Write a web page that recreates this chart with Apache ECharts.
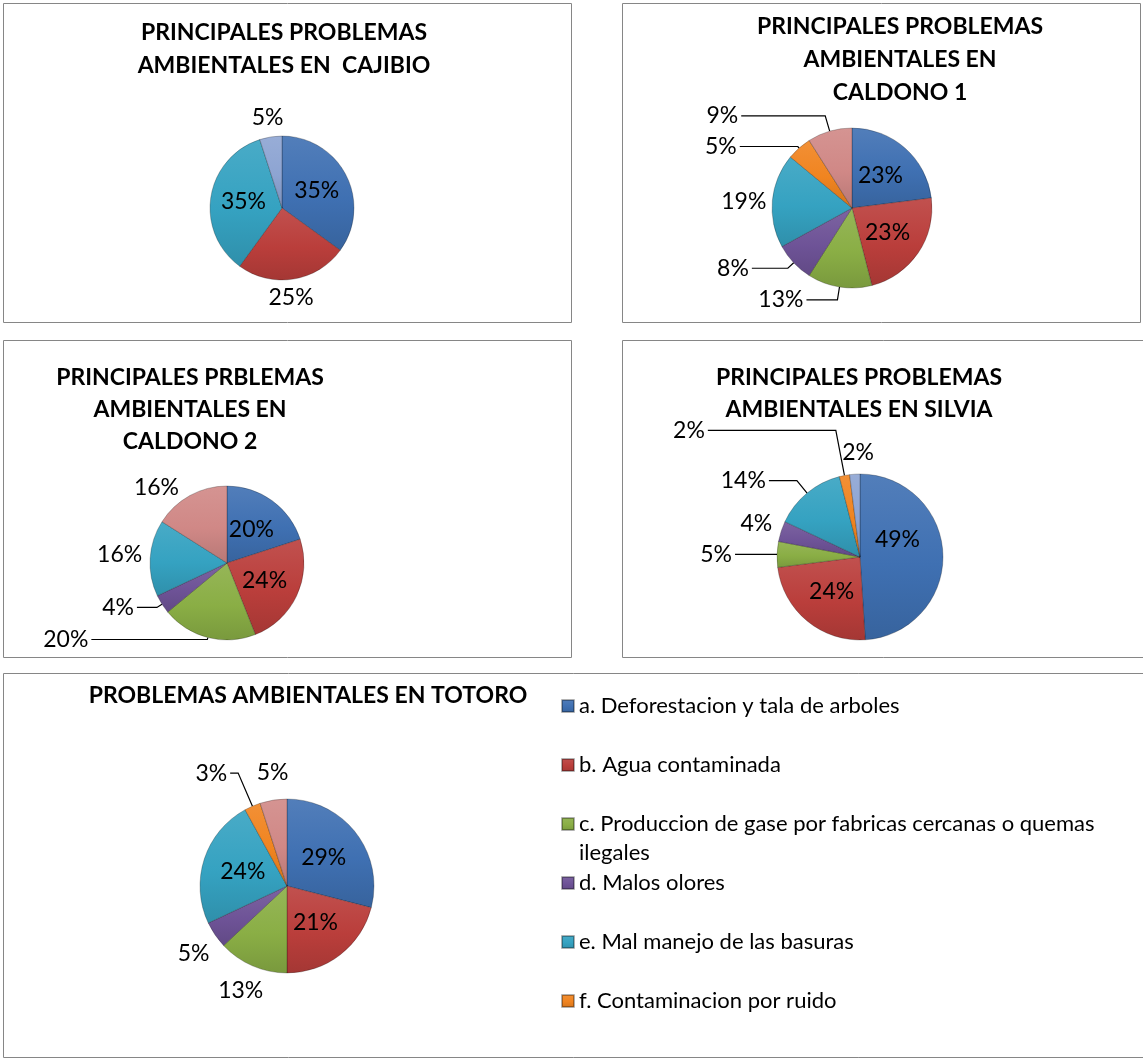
<!DOCTYPE html>
<html>
<head>
<meta charset="utf-8">
<script src="https://cdn.jsdelivr.net/npm/echarts@6/dist/echarts.min.js"></script>
<style>
  html, body { margin: 0; padding: 0; background: #fff; }
  #chart { width: 1143px; height: 1059px; }
</style>
</head>
<body>
<div id="chart"></div>
<script>
// categories (the legend only lists a - f)
const categories = [
  'a. Deforestacion y tala de arboles',
  'b. Agua contaminada',
  'c. Produccion de gase por fabricas cercanas o quemas ilegales',
  'd. Malos olores',
  'e. Mal manejo de las basuras',
  'f. Contaminacion por ruido',
  'g.',
  'h.'
];
const legendItems = categories.slice(0, 6);

// percentages per municipality, in category order a..h
const cajibio  = [35, 25, 0, 0, 35, 0, 0, 5];
const caldono1 = [23, 23, 13, 8, 19, 5, 9, 0];
const caldono2 = [20, 24, 20, 4, 16, 0, 16, 0];
const silvia   = [49, 24, 5, 4, 14, 2, 0, 2];
const totoro   = [29, 21, 13, 5, 24, 3, 5, 0];

const titles = [
  'PRINCIPALES PROBLEMAS\nAMBIENTALES EN  CAJIBIO',
  'PRINCIPALES PROBLEMAS\nAMBIENTALES EN\nCALDONO 1',
  'PRINCIPALES PRBLEMAS\nAMBIENTALES EN\nCALDONO 2',
  'PRINCIPALES PROBLEMAS\nAMBIENTALES EN SILVIA',
  'PROBLEMAS AMBIENTALES EN TOTORO'
];

// colours (Excel office palette, bevel-darkened, + two extra tints)
const palette = ['#3F70B2', '#BA3E3B', '#8AAE45', '#6E5397', '#35A2C1', '#F08420', '#D08886', '#8DA4D2'];

// label placement per slice: in = inside, out = outside without line, line = outside with leader line
const cajibioLabels = {
  0: { mode: 'in' }, 1: { mode: 'out', len: 8, dx: -29, dy: 11 },
  4: { mode: 'in' }, 7: { mode: 'out', len: 8, dx: 17, dy: -11 }
};
const caldono1Labels = {
  0: { mode: 'in' }, 1: { mode: 'in' },
  2: { mode: 'line', len: 13, len2: 31 }, 3: { mode: 'line', len: 8, len2: 36 },
  4: { mode: 'out', len: 6, dx: 3, dy: 2 },
  5: { mode: 'line', len: 2, len2: 58 }, 6: { mode: 'line', len: 16, len2: 84 }
};
const caldono2Labels = {
  0: { mode: 'in' }, 1: { mode: 'in' },
  2: { mode: 'line', len: 2, len2: 116 }, 3: { mode: 'line', len: 6, len2: 20 },
  4: { mode: 'out', len: 2, dx: -3, dy: -3 }, 6: { mode: 'out', len: 6, dx: -5, dy: -3 }
};
const silviaLabels = {
  0: { mode: 'in', dx: -7, dy: -16 }, 1: { mode: 'in' },
  2: { mode: 'line', len: 2, len2: 40 }, 3: { mode: 'out', len: 4, dx: -2, dy: -7 },
  4: { mode: 'line', len: 16, len2: 28 }, 5: { mode: 'line', len: 46, len2: 128 },
  7: { mode: 'out', len: 12, dx: 23, dy: -10 }
};
const totoroLabels = {
  0: { mode: 'in' }, 1: { mode: 'in' },
  2: { mode: 'out', len: 8, dx: 17, dy: 17 }, 3: { mode: 'out', len: 8, dx: 4, dy: 14 },
  4: { mode: 'in' }, 5: { mode: 'line', len: 36, len2: 8 },
  6: { mode: 'out', len: 12, dx: 20, dy: -16 }
};

const pies = [
  { values: cajibio,  labels: cajibioLabels,  center: [282, 208], radius: 72 },
  { values: caldono1, labels: caldono1Labels, center: [852, 208], radius: 80 },
  { values: caldono2, labels: caldono2Labels, center: [227, 563], radius: 77 },
  { values: silvia,   labels: silviaLabels,   center: [860, 557], radius: 83 },
  { values: totoro,   labels: totoroLabels,   center: [287, 886], radius: 87 }
];

const titlePos = [[284, 16.5, 33], [900, 10.5, 33], [190, 362, 32], [859, 362, 32], [308, 679, 33]];
const panels = [
  [3.5, 3.5, 568, 319], [622.5, 3.5, 518, 319],
  [3.5, 340.5, 568, 317], [622.5, 340.5, 525, 317],
  [3.5, 673.5, 1145, 384]
];
const legendRowY = [706, 765, 824, 883, 942, 1001];

function shade(hex, f) {
  const n = parseInt(hex.slice(1), 16);
  let r = (n >> 16) & 255, g = (n >> 8) & 255, b = n & 255;
  const t = f < 0 ? 0 : 255, p = Math.abs(f);
  r = Math.round((t - r) * p + r); g = Math.round((t - g) * p + g); b = Math.round((t - b) * p + b);
  return 'rgb(' + r + ',' + g + ',' + b + ')';
}

function sliceColor(hex) {
  return new echarts.graphic.LinearGradient(0, 0, 0, 1, [
    { offset: 0, color: shade(hex, 0.1) },
    { offset: 0.55, color: hex },
    { offset: 1, color: shade(hex, -0.12) }
  ]);
}

function buildSeries(pie) {
  const data = [];
  const shifts = [];
  pie.values.forEach(function (v, i) {
    if (!v) return;
    const s = pie.labels[i] || { mode: 'in' };
    const item = {
      name: categories[i],
      value: v,
      itemStyle: { color: sliceColor(palette[i]) }
    };
    if (s.mode === 'in') {
      item.label = { position: 'inside' };
      item.labelLine = { show: false };
    } else {
      item.label = { position: 'outside' };
      item.labelLine = { show: s.mode === 'line', length: s.len || 0, length2: s.len2 || 0 };
    }
    data.push(item);
    shifts.push(s.dx || s.dy ? [s.dx || 0, s.dy || 0] : null);
  });
  return {
    type: 'pie',
    center: pie.center,
    radius: pie.radius,
    startAngle: 90,
    clockwise: true,
    avoidLabelOverlap: false,
    animation: false,
    emphasis: { disabled: true },
    itemStyle: { borderColor: 'rgba(0,0,0,0.3)', borderWidth: 0.8 },
    label: {
      formatter: function (p) { return p.value + '%'; },
      color: '#000',
      fontSize: 23,
      fontFamily: 'Lato',
      distanceToLabelLine: 3
    },
    labelLine: { lineStyle: { color: '#000', width: 1.2 } },
    labelLayout: function (p) {
      const sh = shifts[p.dataIndex];
      return sh ? { dx: sh[0], dy: sh[1] } : {};
    },
    data: data
  };
}

const chart = echarts.init(document.getElementById('chart'));

chart.setOption({
  animation: false,
  textStyle: { fontFamily: 'Lato' },
  title: titles.map(function (t, i) {
    return {
      text: t,
      left: titlePos[i][0],
      top: titlePos[i][1],
      textAlign: 'center',
      padding: 0,
      textStyle: {
        fontFamily: 'Lato', fontWeight: 'bold', fontSize: 23,
        color: '#000', lineHeight: titlePos[i][2]
      }
    };
  }),
  legend: legendItems.map(function (name, i) {
    const twoLines = name.indexOf('quemas ') >= 0;
    return {
      data: [name],
      orient: 'vertical',
      left: 561,
      top: legendRowY[i] - (twoLines ? 43.5 : 14.5),
      padding: 0,
      icon: 'rect',
      itemWidth: 12,
      itemHeight: 12,
      selectedMode: false,
      // the long item wraps after "quemas"; a blank first line keeps the icon on the first text line
      formatter: function (n) {
        return n.indexOf('quemas ') >= 0 ? ' \n' + n.replace('quemas ', 'quemas\n') : n;
      },
      textStyle: { fontFamily: 'Lato', fontSize: 22, color: '#000', lineHeight: 29 }
    };
  }),
  graphic: panels.map(function (p) {
    return {
      type: 'rect',
      silent: true,
      z: -1,
      shape: { x: p[0], y: p[1], width: p[2], height: p[3] },
      style: { fill: 'none', stroke: '#868686', lineWidth: 1 }
    };
  }),
  series: pies.map(buildSeries)
});
</script>
</body>
</html>
